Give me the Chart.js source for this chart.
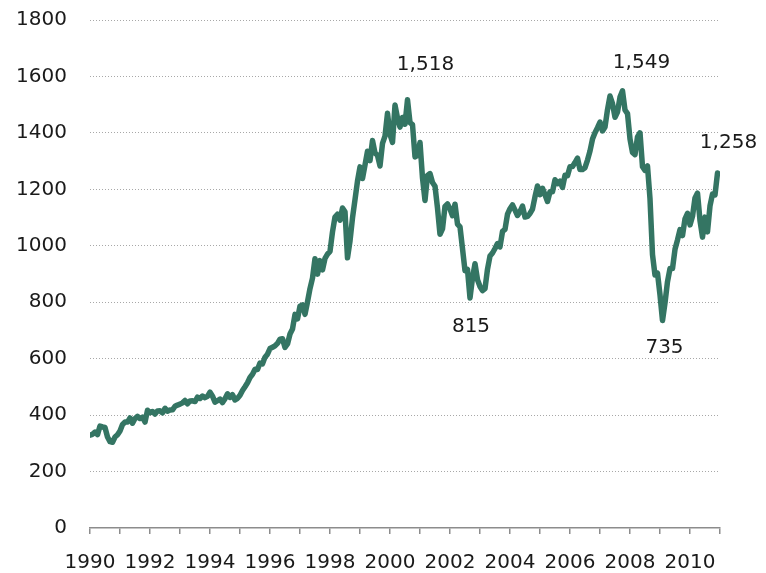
<!DOCTYPE html>
<html>
<head>
<meta charset="utf-8">
<script src="https://cdn.jsdelivr.net/npm/chart.js@4"></script>
<style>
  body { margin: 0; background: #fff; }
  #wrap { width: 766px; height: 573px; }
</style>
</head>
<body>
<div id="wrap"><canvas id="chart" width="766" height="573"></canvas></div>
<script>
// monthly closes, Jan 1990 .. Dec 2010
const startYear = 1990;
const monthlyClose = [
  329.08, 331.89, 339.94, 330.80, 361.23, 358.02, 356.15, 322.56, 306.05, 304.00, 322.22, 330.22,
  343.93, 367.07, 375.22, 375.34, 389.83, 371.16, 387.81, 395.43, 387.86, 392.46, 375.22, 417.09,
  408.79, 412.70, 403.69, 414.95, 415.35, 408.14, 424.21, 414.03, 417.80, 418.68, 431.35, 435.71,
  438.78, 443.38, 451.67, 440.19, 450.19, 450.53, 448.13, 463.56, 458.93, 467.83, 461.79, 466.45,
  481.61, 467.14, 445.77, 450.91, 456.50, 444.27, 458.26, 475.49, 462.69, 472.35, 453.69, 459.27,
  470.42, 487.39, 500.71, 514.71, 533.40, 544.75, 562.06, 561.88, 584.41, 581.50, 605.37, 615.93,
  636.02, 640.43, 645.50, 654.17, 669.12, 670.63, 639.95, 651.99, 687.31, 705.27, 757.02, 740.74,
  786.16, 790.82, 757.12, 801.34, 848.28, 885.14, 954.29, 899.47, 947.28, 914.62, 955.40, 970.43,
  980.28, 1049.34, 1101.75, 1111.75, 1090.82, 1133.84, 1120.67, 957.28, 1017.01, 1098.67, 1163.63, 1229.23,
  1279.64, 1238.33, 1286.37, 1335.18, 1301.84, 1372.71, 1328.72, 1320.41, 1282.71, 1362.93, 1388.91, 1469.25,
  1394.46, 1366.42, 1498.58, 1452.43, 1420.60, 1454.60, 1430.83, 1517.68, 1436.51, 1429.40, 1314.95, 1320.28,
  1366.01, 1239.94, 1160.33, 1249.46, 1255.82, 1224.38, 1211.23, 1133.58, 1040.94, 1059.78, 1139.45, 1148.08,
  1130.20, 1106.73, 1147.39, 1076.92, 1067.14, 989.82, 911.62, 916.07, 815.28, 885.76, 936.31, 879.82,
  855.70, 841.15, 848.18, 916.92, 963.59, 974.50, 990.31, 1008.01, 995.97, 1050.71, 1058.20, 1111.92,
  1131.13, 1144.94, 1126.21, 1107.30, 1120.68, 1140.84, 1101.72, 1104.24, 1114.58, 1130.20, 1173.82, 1211.92,
  1181.27, 1203.60, 1180.59, 1156.85, 1191.50, 1191.33, 1234.18, 1220.33, 1228.81, 1207.01, 1249.48, 1248.29,
  1280.08, 1280.66, 1294.87, 1310.61, 1270.09, 1270.20, 1276.66, 1303.82, 1335.85, 1377.94, 1400.63, 1418.30,
  1438.24, 1406.82, 1420.86, 1482.37, 1530.62, 1503.35, 1455.27, 1473.99, 1526.75, 1549.38, 1481.14, 1468.36,
  1378.55, 1330.63, 1322.70, 1385.59, 1400.38, 1280.00, 1267.38, 1282.83, 1166.36, 968.75, 896.24, 903.25,
  825.88, 735.09, 797.87, 872.81, 919.14, 919.32, 987.48, 1020.62, 1057.08, 1036.19, 1095.63, 1115.10,
  1073.87, 1104.49, 1169.43, 1186.69, 1089.41, 1030.71, 1101.60, 1049.33, 1141.20, 1183.26, 1180.55, 1257.64
];
const yMax = 1800;
const yStep = 200;

// labelled points (index into monthlyClose)
const calloutText = ["1,518", "1,549", "1,258", "815", "735"];
const calloutIndex = [127, 213, 251, 152, 229];
// pixel nudges for each callout
const calloutOffset = [[18, -35], [19, -28], [11, -30], [1, 29], [2, 27]];

const points = monthlyClose.map((v, i) => ({ x: startYear + i / 12, y: v }));

const textFont = { family: "DejaVu Sans", size: 20 };

const calloutPlugin = {
  id: "callouts",
  afterDatasetsDraw(chart) {
    const { ctx, scales } = chart;
    ctx.save();
    ctx.font = "20px 'DejaVu Sans'";
    ctx.fillStyle = "#1a1a1a";
    ctx.textAlign = "center";
    ctx.textBaseline = "middle";
    calloutText.forEach((t, k) => {
      const p = points[calloutIndex[k]];
      const x = scales.x.getPixelForValue(p.x) + calloutOffset[k][0];
      const y = scales.y.getPixelForValue(p.y) + calloutOffset[k][1];
      ctx.fillText(t, x, y);
    });
    ctx.restore();
  }
};

new Chart(document.getElementById("chart"), {
  type: "line",
  data: {
    datasets: [{
      data: points,
      borderColor: "#347563",
      borderWidth: 5.5,
      pointRadius: 0,
      tension: 0,
      borderJoinStyle: "round",
      borderCapStyle: "round"
    }]
  },
  options: {
    responsive: false,
    animation: false,
    layout: { padding: { left: 0, right: 46, top: 20, bottom: 0 } },
    plugins: { legend: { display: false }, tooltip: { enabled: false } },
    scales: {
      x: {
        type: "linear",
        min: startYear,
        max: startYear + monthlyClose.length / 12,
        afterFit(scale) { scale.height = 45; },
        afterBuildTicks(scale) {
          const t = [];
          for (let y = scale.min; y <= scale.max; y++) t.push({ value: y });
          scale.ticks = t;
        },
        ticks: {
          autoSkip: false,
          maxRotation: 0,
          padding: 17,
          color: "#1a1a1a",
          font: textFont,
          callback: (v) => (v % 2 === 0 && v <= 2010 ? String(v) : "")
        },
        grid: {
          drawOnChartArea: false,
          drawTicks: true,
          tickLength: 6,
          color: "#8c8c8c",
          lineWidth: 1.5
        },
        border: { display: true, color: "#8c8c8c", width: 1.5 }
      },
      y: {
        min: 0,
        max: yMax,
        afterFit(scale) {
          scale.width = 90;
          scale.paddingTop = 0;
          scale.paddingBottom = 0;
        },
        ticks: {
          stepSize: yStep,
          padding: 23,
          color: "#1a1a1a",
          font: textFont,
          callback: (v) => String(v)
        },
        grid: {
          drawTicks: false,
          color: (c) => (c.tick.value === 0 ? "rgba(0,0,0,0)" : "#a8a8a8"),
          lineWidth: 1
        },
        border: { display: false, dash: [1, 2] }
      }
    }
  },
  plugins: [calloutPlugin]
});
</script>
</body>
</html>
